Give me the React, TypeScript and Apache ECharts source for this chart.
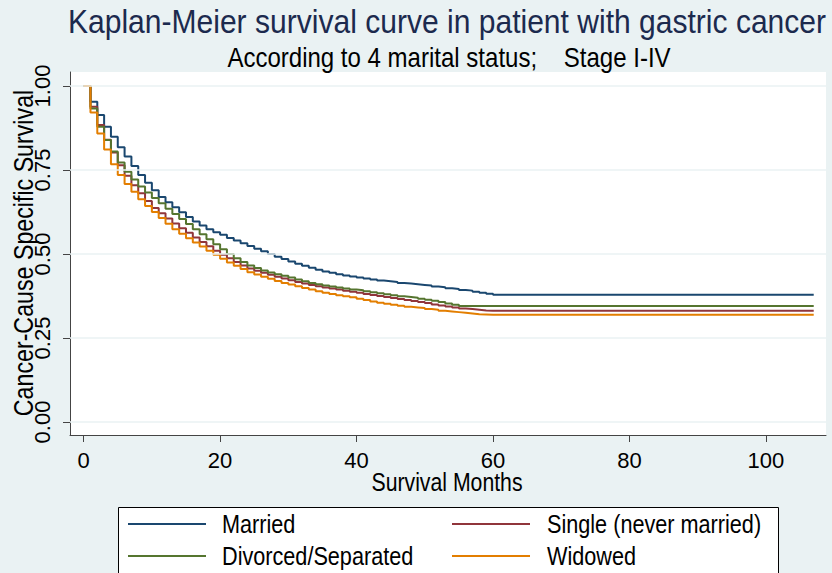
import React, { useEffect, useRef } from "react";
import * as echarts from "echarts";

const TITLE = "Kaplan-Meier survival curve in patient with gastric cancer";
const SUBTITLE = "According to 4 marital status;    Stage I-IV";
const X_NAME = "Survival Months";
const Y_NAME = "Cancer-Cause Specific Survival";

const xTicks = [0, 20, 40, 60, 80, 100];
const yTicks = [0, 0.25, 0.5, 0.75, 1];

const months = [
  0, 1, 2, 3, 4, 5, 6, 7, 8, 9,
  10, 11, 12, 13, 14, 15, 16, 17, 18, 19,
  20, 21, 22, 23, 24, 25, 26, 27, 28, 29,
  30, 31, 32, 33, 34, 35, 36, 37, 38, 39,
  40, 41, 42, 43, 44, 45, 46, 47, 48, 49,
  50, 51, 52, 53, 54, 55, 56, 57, 58, 59,
  60, 107,
];

const married = [
  1.0, 0.953, 0.914, 0.879, 0.849, 0.818, 0.79, 0.762, 0.735, 0.712,
  0.69, 0.67, 0.654, 0.639, 0.624, 0.61, 0.597, 0.585, 0.574, 0.565,
  0.557, 0.548, 0.54, 0.532, 0.524, 0.516, 0.508, 0.5, 0.492, 0.485,
  0.478, 0.471, 0.465, 0.459, 0.453, 0.448, 0.444, 0.44, 0.436, 0.433,
  0.43, 0.427, 0.424, 0.421, 0.419, 0.417, 0.414, 0.412, 0.41, 0.408,
  0.406, 0.403, 0.401, 0.398, 0.396, 0.393, 0.391, 0.388, 0.385, 0.382,
  0.379, 0.379,
];

const single = [
  1.0, 0.938, 0.884, 0.84, 0.802, 0.764, 0.733, 0.705, 0.681, 0.658,
  0.637, 0.621, 0.606, 0.591, 0.577, 0.563, 0.549, 0.536, 0.523, 0.51,
  0.498, 0.487, 0.476, 0.466, 0.457, 0.45, 0.444, 0.438, 0.432, 0.427,
  0.422, 0.417, 0.412, 0.408, 0.404, 0.4, 0.397, 0.394, 0.391, 0.388,
  0.385, 0.381, 0.378, 0.375, 0.372, 0.369, 0.366, 0.363, 0.36, 0.357,
  0.354, 0.35, 0.347, 0.344, 0.341, 0.338, 0.336, 0.334, 0.332, 0.331,
  0.331, 0.331,
];

const divorced = [
  1.0, 0.933, 0.879, 0.839, 0.805, 0.772, 0.745, 0.722, 0.701, 0.683,
  0.667, 0.651, 0.635, 0.619, 0.604, 0.589, 0.574, 0.559, 0.544, 0.529,
  0.514, 0.5, 0.487, 0.476, 0.466, 0.458, 0.451, 0.445, 0.44, 0.435,
  0.43, 0.424, 0.419, 0.414, 0.41, 0.406, 0.403, 0.4, 0.397, 0.394,
  0.392, 0.389, 0.386, 0.383, 0.38, 0.377, 0.374, 0.372, 0.37, 0.367,
  0.364, 0.361, 0.357, 0.353, 0.349, 0.345, 0.345, 0.345, 0.345, 0.345,
  0.345, 0.345,
];

const widowed = [
  1.0, 0.921, 0.859, 0.811, 0.767, 0.735, 0.708, 0.685, 0.663, 0.643,
  0.625, 0.607, 0.59, 0.574, 0.56, 0.547, 0.534, 0.522, 0.51, 0.498,
  0.486, 0.475, 0.465, 0.455, 0.446, 0.439, 0.432, 0.426, 0.42, 0.414,
  0.409, 0.404, 0.399, 0.394, 0.389, 0.385, 0.381, 0.377, 0.374, 0.371,
  0.367, 0.363, 0.359, 0.355, 0.352, 0.349, 0.346, 0.343, 0.341, 0.339,
  0.336, 0.334, 0.331, 0.329, 0.327, 0.325, 0.323, 0.321, 0.32, 0.319,
  0.319, 0.319,
];

const seriesNames = ["Married", "Single (never married)", "Divorced/Separated", "Widowed"];
const seriesValues = [married, single, divorced, widowed];
const seriesColors = ["#1a476f", "#90353b", "#55752f", "#e37e00"];

const FONT = "'Liberation Sans', Arial, sans-serif";
const BG = "#eaf2f3";

function label(
  text: string,
  x: number,
  y: number,
  fontSize: number,
  scaleX: number,
  opts: { align?: string; rotation?: number; color?: string } = {}
) {
  const align = opts.align || "center";
  return {
    type: "text",
    x,
    y,
    scaleX,
    scaleY: 1,
    rotation: opts.rotation || 0,
    z: 10,
    silent: true,
    style: {
      text,
      x: 0,
      y: 0,
      fill: opts.color || "#000",
      fontSize,
      fontFamily: FONT,
      textAlign: align,
      textVerticalAlign: "middle",
      align,
      verticalAlign: "middle",
    },
  };
}

export default function App() {
  const ref = useRef<HTMLDivElement>(null);

  useEffect(() => {
    if (!ref.current) return;
    const chart = echarts.init(ref.current, undefined, { renderer: "svg" });

    const legendSlots = [
      { lineX: 128, textX: 222, y: 524 },
      { lineX: 452, textX: 547, y: 524 },
      { lineX: 128, textX: 222, y: 556 },
      { lineX: 452, textX: 547, y: 556 },
    ];

    const legendGraphics: any[] = [];
    seriesNames.forEach((name, i) => {
      const s = legendSlots[i];
      legendGraphics.push({
        type: "line",
        z: 10,
        silent: true,
        shape: { x1: s.lineX, y1: s.y, x2: s.lineX + 78, y2: s.y },
        style: { stroke: seriesColors[i], lineWidth: 2 },
      });
      legendGraphics.push(label(name, s.textX, s.y, 25, 0.866, { align: "left" }));
    });

    const option: any = {
      animation: false,
      backgroundColor: BG,
      textStyle: { fontFamily: FONT },
      grid: {
        left: 70,
        right: 6,
        top: 72,
        bottom: 138,
        show: true,
        backgroundColor: "#ffffff",
        borderWidth: 0,
      },
      xAxis: {
        type: "value",
        min: -2,
        max: 108.8,
        axisLine: { show: true, onZero: false, lineStyle: { color: "#444", width: 1 } },
        axisTick: { show: true, length: 7, customValues: xTicks, lineStyle: { color: "#444" } },
        axisLabel: {
          customValues: xTicks,
          fontFamily: FONT,
          fontSize: 22,
          color: "#000",
          margin: 14,
        },
        splitLine: { show: false },
      },
      yAxis: {
        type: "value",
        min: -0.0387,
        max: 1.0417,
        axisLine: { show: true, onZero: false, lineStyle: { color: "#444", width: 1 } },
        axisTick: { show: true, length: 7, customValues: yTicks, lineStyle: { color: "#444" } },
        axisLabel: {
          customValues: yTicks,
          rotate: 90,
          fontFamily: FONT,
          fontSize: 22,
          color: "#000",
          margin: 17,
          formatter: (v: number) => v.toFixed(2),
        },
        splitLine: { show: false },
      },
      graphic: [
        label(TITLE, 447, 21, 34, 0.884, { color: "#1c2a4e" }),
        label(SUBTITLE, 449, 57, 27, 0.89),
        label(X_NAME, 447, 482, 25, 0.85),
        label(Y_NAME, 23, 253, 27, 0.86, { rotation: Math.PI / 2 }),
        {
          type: "rect",
          z: 5,
          silent: true,
          shape: { x: 118.5, y: 507.5, width: 660, height: 100 },
          style: { fill: "#ffffff", stroke: "#000000", lineWidth: 1 },
        },
        ...legendGraphics,
      ],
      series: [
        {
          type: "line",
          name: "grid",
          data: [],
          silent: true,
          z: 1,
          markLine: {
            silent: true,
            symbol: "none",
            label: { show: false },
            lineStyle: { color: BG, width: 1.5, type: "solid" },
            data: yTicks.map((v) => ({ yAxis: v })),
          },
        },
        ...seriesNames.map((name, i) => ({
          type: "line",
          name,
          step: "end",
          showSymbol: false,
          symbol: "none",
          z: 2,
          lineStyle: { color: seriesColors[i], width: 2 },
          itemStyle: { color: seriesColors[i] },
          data: months.map((m, j) => [m, seriesValues[i][j]]),
        })),
      ],
    };

    chart.setOption(option);
    return () => chart.dispose();
  }, []);

  return (
    <div
      ref={ref}
      style={{ position: "fixed", left: 0, top: 0, width: 832, height: 573 }}
    />
  );
}
